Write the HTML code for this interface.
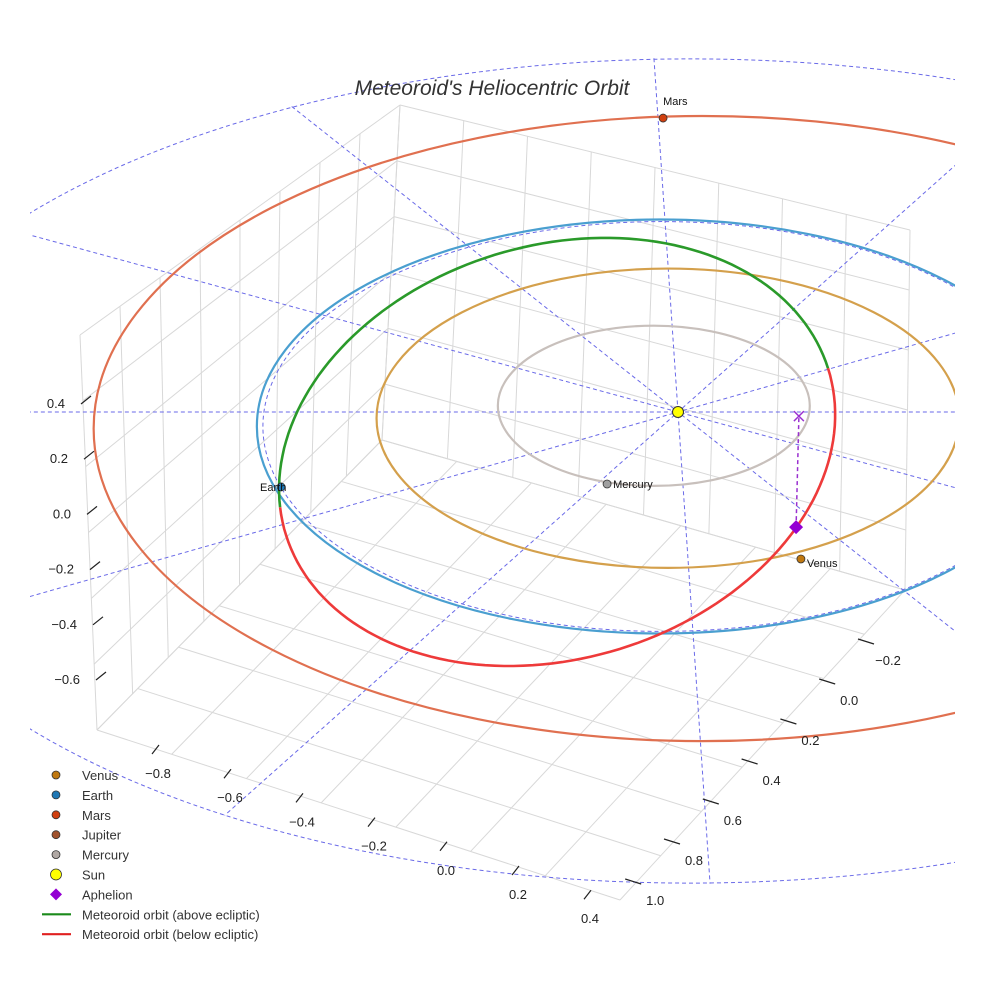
<!DOCTYPE html>
<html><head><meta charset="utf-8"><style>
html,body{margin:0;padding:0;background:#fff;}
svg{display:block;font-family:"Liberation Sans",sans-serif;}
</style></head><body>
<svg id="chart" width="984" height="984" viewBox="0 0 984 984" xmlns="http://www.w3.org/2000/svg">
<defs><clipPath id="clip"><rect x="30" y="0" width="925" height="984"/></clipPath></defs>
<rect width="984" height="984" fill="#fff"/>
<g id="box"></g>
<g id="plot" clip-path="url(#clip)"></g>
<g id="ticks"></g>
<text x="492" y="95" text-anchor="middle" font-size="21" font-style="italic" fill="#333">Meteoroid's Heliocentric Orbit</text>
<g id="legend"></g>
</svg>
<script>
// ---- data ----
const orbitNames = ["Mercury","Venus","Earth","Mars"];
const orbitRadius = [0.387, 0.723, 1.0, 1.51];
const orbitOffsetX = [-0.06, -0.025, -0.045, 0.06];
const orbitOffsetY = [-0.03, 0.03, 0.07, 0.08];
const orbitColors = ["#c8c0bc","#d4a04c","#4a9fd0","#e07050"];
const planetNames = ["Mars","Earth","Venus","Mercury"];
const planetX = [-0.037, -0.985, 0.305, -0.176];
const planetY = [-1.42, 0.362, 0.71, 0.348];
const planetFill = ["#d04010","#1f77b4","#c07810","#a0a0a0"];
const refRadius = [2.1, 0.99];
const refAspect = [0.948, 1.0];
const refOffsetX = [0.03, -0.04];
const refOffsetY = [0.285, 0.07];
const meteorCenter = [-0.300, 0.193];
const meteorAxes = [0.69, 1.034];
const meteorPhaseDeg = 100;
const meteorSplitDeg = [175, 347]; // green arc start/end param
const aphelion = [0.293, 0.556];
const aphelionProj = [0.3, 0.02];
const radialAnglesDeg = [0, 28, 57, 88, 120, 151];
const zTicks = ["0.4","0.2","0.0","−0.2","−0.4","−0.6"];
const xTicks = ["−0.8","−0.6","−0.4","−0.2","0.0","0.2","0.4"];
const yTicks = ["−0.2","0.0","0.2","0.4","0.6","0.8","1.0"];

// ---- projection ----
const CX=678, CY=412, KX=403, KY=207;
const px = x => CX + x*KX;
const py = y => CY + y*KY;
const NS="http://www.w3.org/2000/svg";
function mk(tag, attrs, parent){const e=document.createElementNS(NS,tag);for(const k in attrs)e.setAttribute(k,attrs[k]);parent.appendChild(e);return e;}
const plot=document.getElementById('plot'), box=document.getElementById('box'), ticks=document.getElementById('ticks'), legend=document.getElementById('legend');

// ---- box grid (styling geometry) ----
const A=[97,730],B=[620,900],C=[905,590],D=[382,440],At=[80,335],Dt=[400,105],Ct=[910,230];
const lerp=(p,q,t)=>[p[0]+(q[0]-p[0])*t,p[1]+(q[1]-p[1])*t];
function gl(p,q,c){const l=mk('line',{x1:p[0],y1:p[1],x2:q[0],y2:q[1],stroke:c||'#d8d8d8','stroke-width':1},box);

}
for(let i=0;i<=7;i++){const t=i/7;gl(lerp(A,B,t),lerp(D,C,t));gl(lerp(A,D,t),lerp(B,C,t));}
for(let i=0;i<=8;i++){const t=i/8;gl(lerp(A,D,t),lerp(At,Dt,t));gl(lerp(D,C,t),lerp(Dt,Ct,t));}
for(let i=0;i<=6;i++){const t=i/6;gl(lerp(A,At,t),lerp(D,Dt,t));gl(lerp(D,Dt,t),lerp(C,Ct,t));}

// ---- radial dashed lines, bounded by outer reference ellipse ----
function toEdge(ux,uy){const R=refRadius[0],asp=refAspect[0],ox=refOffsetX[0],oy=refOffsetY[0];
 let s=0;while(s<5){const x=(s*ux-ox)/R,y=(s*uy-oy)/(R*asp);if(x*x+y*y>1)break;s+=0.005;}return [s*ux,s*uy];}
radialAnglesDeg.forEach(a=>{const r=a*Math.PI/180;
 const p1=toEdge(Math.cos(r),Math.sin(r)), p2=toEdge(-Math.cos(r),-Math.sin(r));
 const l=mk('line',{x1:px(p2[0]),y1:py(p2[1]),x2:px(p1[0]),y2:py(p1[1]),stroke:'#6a6ae8','stroke-width':1,'stroke-dasharray':'4,3'},plot);
 
 });
// reference dashed circles
refRadius.forEach((r,i)=>{const e=mk('ellipse',{cx:px(refOffsetX[i]),cy:py(refOffsetY[i]),rx:r*KX,ry:r*KY*refAspect[i],fill:'none',stroke:'#6a6ae8','stroke-width':1,'stroke-dasharray':'4,3'},plot);
 
 });

// ---- orbits ----
orbitRadius.forEach((r,i)=>{const e=mk('ellipse',{cx:px(orbitOffsetX[i]),cy:py(orbitOffsetY[i]),rx:r*KX,ry:r*KY,fill:'none',stroke:orbitColors[i],'stroke-width':2.2},plot);
 
 });

// ---- meteoroid orbit ----
function arc(a0,a1,color,name){let d='';const ph=meteorPhaseDeg*Math.PI/180;for(let a=a0;a<=a1+0.01;a+=2){const t=a*Math.PI/180;
 const x=px(meteorCenter[0]+meteorAxes[0]*Math.cos(t)), y=py(meteorCenter[1]+meteorAxes[1]*Math.cos(t-ph));d+=(d?'L':'M')+x.toFixed(1)+','+y.toFixed(1);}
 const p=mk('path',{d:d,fill:'none',stroke:color,'stroke-width':2.6},plot);
 
 }
arc(meteorSplitDeg[0],meteorSplitDeg[1],'#2a9a2a','meteoroid-orbit-above');
arc(meteorSplitDeg[1],meteorSplitDeg[0]+360,'#ee3a3a','meteoroid-orbit-below');

// aphelion projection
const al=mk('line',{x1:px(aphelion[0]),y1:py(aphelion[1]),x2:px(aphelionProj[0]),y2:py(aphelionProj[1]),stroke:'#9a30d0','stroke-width':1.5,'stroke-dasharray':'4,3'},plot);


const ax=px(aphelionProj[0]), ay=py(aphelionProj[1]);
const xm=mk('path',{d:`M${ax-5},${ay-5}L${ax+5},${ay+5}M${ax-5},${ay+5}L${ax+5},${ay-5}`,stroke:'#9a30d0','stroke-width':1.5},plot);


const dx=px(aphelion[0]), dy=py(aphelion[1]);
const dm=mk('path',{d:`M${dx},${dy-7}L${dx+7},${dy}L${dx},${dy+7}L${dx-7},${dy}Z`,fill:'#9400d3'},plot);



// sun
const sun=mk('circle',{cx:px(0),cy:py(0),r:5.5,fill:'#ffff00',stroke:'#333','stroke-width':1},plot);



// planets
planetNames.forEach((n,i)=>{const x=px(planetX[i]),y=py(planetY[i]);
 const c=mk('circle',{cx:x,cy:y,r:4,fill:planetFill[i],stroke:'#333','stroke-width':0.8},plot);
 
 
 const lx = n==='Mars'? x : (n==='Earth'? x-21 : x+6);
 const ly = n==='Mars'? y-13 : (n==='Venus'? y+8 : y+4);
 const t=mk('text',{x:lx,y:ly,'font-size':11,fill:'#111'},plot);t.textContent=n;
 
 });

// ---- ticks ----
zTicks.forEach((s,i)=>{const y=403+i*55.2, x=55+i*3;
 const t=mk('text',{x:x+10,y:y+5,'font-size':13,fill:'#222','text-anchor':'end'},ticks);t.textContent=s;
 
 
 const l=mk('line',{x1:x+26,y1:y+1,x2:x+36,y2:y-7,stroke:'#222','stroke-width':1.2},ticks);
 
 });
xTicks.forEach((s,i)=>{const x=158+i*72, y=778+i*24.2;
 const t=mk('text',{x:x,y:y,'font-size':13,fill:'#222','text-anchor':'middle'},ticks);t.textContent=s;
 
 
 const l=mk('line',{x1:x-6,y1:y-24,x2:x+1,y2:y-33,stroke:'#222','stroke-width':1.2},ticks);
 
 });
yTicks.forEach((s,i)=>{const x=888-i*38.8, y=665+i*40;
 const t=mk('text',{x:x,y:y,'font-size':13,fill:'#222','text-anchor':'middle'},ticks);t.textContent=s;
 
 
 const l=mk('line',{x1:x-30,y1:y-26,x2:x-14,y2:y-21,stroke:'#222','stroke-width':1.2},ticks);
 
 });

// ---- legend ----
const legLabels=["Venus","Earth","Mars","Jupiter","Mercury","Sun","Aphelion","Meteoroid orbit (above ecliptic)","Meteoroid orbit (below ecliptic)"];
const legColors=["#c07810","#1f77b4","#d04010","#a0522d","#b0a8a4","#ffff00","#9400d3","#1a8a1a","#e02020"];
legLabels.forEach((s,i)=>{const y=775+i*19.9;
 let m;
 if(i<6){m=mk('circle',{cx:56,cy:y,r:i===5?5.5:4,fill:legColors[i],stroke:'#333','stroke-width':0.8},legend);}
 else if(i===6){m=mk('path',{d:`M56,${y-6}L62,${y}L56,${y+6}L50,${y}Z`,fill:legColors[i]},legend);}
 else{m=mk('line',{x1:42,y1:y,x2:71,y2:y,stroke:legColors[i],'stroke-width':2.2},legend);}
 
 
 const t=mk('text',{x:82,y:y+5,'font-size':13,fill:'#333'},legend);t.textContent=s;
 
 });
</script>
</body></html>
